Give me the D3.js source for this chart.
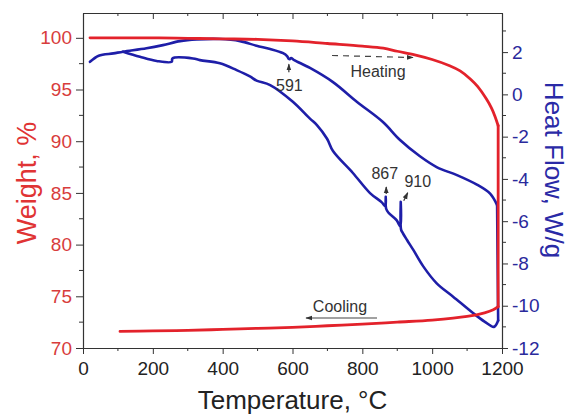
<!DOCTYPE html>
<html><head><meta charset="utf-8">
<script src="https://cdn.jsdelivr.net/npm/d3@7"></script>
<style>
body{margin:0;background:#fff}
text{font-family:"Liberation Sans",Arial,sans-serif}
</style>
</head><body>
<svg id="chart" width="570" height="415"></svg>
<script>
// Thermogravimetric (weight) data, heating run then cooling run
const wHeatT = [20,100,200,300,400,500,600,700,800,860,900,950,1000,1050,1080,1110,1130,1155,1170,1180,1189];
const wHeatV = [100.0,100.0,100.0,99.95,99.9,99.85,99.7,99.45,99.2,99.0,98.7,98.35,97.9,97.3,96.8,96.0,95.3,94.1,93.2,92.4,91.5];
const wCoolT = [1189,1175,1150,1100,1000,900,800,700,600,500,400,300,200,106];
const wCoolV = [74.0,73.7,73.4,73.05,72.7,72.5,72.3,72.15,72.0,71.9,71.8,71.7,71.65,71.6];

// DSC heat flow, heating run then cooling run
const hHeatT = [20,45,87,115,182,229,278,326,392,450,497,536,573,585,589,592,596,605,650,716,785,859,908,965,1014,1071,1128,1166,1186];
const hHeatV = [1.54,1.83,1.94,2.02,2.18,2.33,2.52,2.6,2.62,2.52,2.3,2.15,1.95,1.8,1.68,1.66,1.72,1.62,1.25,0.58,-0.36,-1.31,-2.16,-2.93,-3.45,-3.82,-4.27,-4.7,-5.24];
const hCoolT = [1189,1177,1150,1118,1060,1013,975,946,928,916,911,910,909,898,875,868,867,866,855,822,773,716,699,670,650,601,536,497,478,440,392,335,315,256,254,211,163,115];
const hCoolV = [-10.7,-11.0,-10.75,-10.36,-9.57,-8.94,-8.15,-7.36,-6.89,-6.56,-6.4,-5.08,-6.25,-5.95,-5.6,-5.4,-4.85,-5.3,-5.1,-4.67,-3.72,-2.68,-2.1,-1.45,-1.15,-0.35,0.44,0.65,0.85,1.15,1.47,1.62,1.70,1.70,1.54,1.58,1.78,2.02];

// Axis ticks
const tempTicks = [0,200,400,600,800,1000,1200];
const weightTicks = [70,75,80,85,90,95,100];
const flowTicks = [-12,-10,-8,-6,-4,-2,0,2];

// Annotated transition temperatures
const markTemps = [591, 867, 910];

const svg = d3.select("#chart");
const L = 83, R = 502, T = 13, B = 348;

const x = d3.scaleLinear().domain([0, 1200]).range([L, R]);
const yW = d3.scaleLinear().domain([70, 102.4]).range([B, T]);
const yH = d3.scaleLinear().domain([-12, 3.85]).range([B, T]);

const RED = "#e3222b", BLUE = "#1e1ea8";

// arrowhead marker
const defs = svg.append("defs");
defs.append("marker").attr("id","ah").attr("viewBox","0 0 10 10")
  .attr("refX",9).attr("refY",5).attr("markerWidth",7).attr("markerHeight",7)
  .attr("markerUnits","userSpaceOnUse").attr("orient","auto")
  .append("path").attr("d","M0,1.5L10,5L0,8.5Z").attr("fill","#333");

// minor ticks
function minor(g, vals, pos, len, horiz) {
  g.selectAll(null).data(vals).enter().append("line")
    .attr("stroke","#333").attr("stroke-width",1)
    .each(function(d){
      const s = d3.select(this);
      if (horiz) s.attr("x1",pos(d)).attr("x2",pos(d)).attr("y1",0).attr("y2",len);
      else s.attr("y1",pos(d)).attr("y2",pos(d)).attr("x1",0).attr("x2",len);
    });
}

// bottom axis
const gx = svg.append("g").attr("transform",`translate(0,${B})`)
  .call(d3.axisBottom(x).tickValues(tempTicks).tickSize(6).tickSizeOuter(0).tickPadding(8).tickFormat(d=>String(d)));
minor(gx, d3.range(100,1200,200), x, 3, true);
gx.selectAll("text").attr("font-size",19).attr("fill","#222");

// top frame with inward ticks
const gt = svg.append("g").attr("transform",`translate(0,${T})`)
  .call(d3.axisTop(x).tickValues(tempTicks).tickSize(-6).tickSizeOuter(0).tickFormat(""));
minor(gt, d3.range(100,1200,200), x, 3, true);

// left weight axis
const gl = svg.append("g").attr("transform",`translate(${L},0)`)
  .call(d3.axisLeft(yW).tickValues(weightTicks).tickSize(7).tickSizeOuter(0).tickPadding(4).tickFormat(d=>String(d)));
minor(gl, d3.range(72.5,102,5), yW, -4, false);
gl.selectAll("text").attr("font-size",19).attr("fill","#d83c3c");

// right heat-flow axis
const gr = svg.append("g").attr("transform",`translate(${R},0)`)
  .call(d3.axisRight(yH).tickValues(flowTicks).tickSize(6).tickSizeOuter(0).tickPadding(4).tickFormat(d=>String(d)));
minor(gr, d3.range(-11,4,2), yH, 4, false);
gr.selectAll("text").attr("font-size",19).attr("fill","#2a2a9c");

svg.selectAll(".domain").attr("stroke","#333").attr("stroke-width",1.2);
svg.selectAll(".tick line").attr("stroke","#333");

// curves: each run smoothed on its own, joined at the top temperature by a straight segment
const wHeat = wHeatT.map((t,i)=>[t,wHeatV[i]]);
const wCool = wCoolT.map((t,i)=>[t,wCoolV[i]]);
const hHeat = hHeatT.map((t,i)=>[t,hHeatV[i]]);
const hCool = hCoolT.map((t,i)=>[t,hCoolV[i]]);

const smooth = d3.curveCatmullRom.alpha(0.5);
function drawRun(heat, cool, yScale, color, width) {
  const sm = d3.line().x(d=>x(d[0])).y(d=>yScale(d[1])).curve(smooth);
  const st = d3.line().x(d=>x(d[0])).y(d=>yScale(d[1]));
  const g = svg.append("g").attr("fill","none").attr("stroke",color)
    .attr("stroke-width",width).attr("stroke-linejoin","round").attr("stroke-linecap","round");
  g.append("path").attr("d", sm(heat));
  g.append("path").attr("d", st([heat[heat.length-1], cool[0]]));
  g.append("path").attr("d", sm(cool));
}
drawRun(hHeat, hCool, yH, BLUE, 2.6);
drawRun(wHeat, wCool, yW, RED, 2.8);

// annotations
const ann = svg.append("g").attr("fill","#333").attr("font-size",16);
const hAt = (arr, t) => arr.find(d=>d[0]===t)[1];

// 591 on heating curve
const t591 = markTemps[0];
ann.append("line").attr("x1",x(t591)-0.5).attr("x2",x(t591)-0.5)
  .attr("y1",yH(1.62)+12).attr("y2",yH(1.62)+4)
  .attr("stroke","#333").attr("stroke-width",1.2).attr("marker-end","url(#ah)");
ann.append("text").attr("x",x(t591)).attr("y",yH(1.62)+31).attr("text-anchor","middle").text(String(t591));

// 867 and 910 on cooling curve
const t867 = markTemps[1], t910 = markTemps[2];
ann.append("line").attr("x1",x(t867)+0.5).attr("x2",x(t867)+0.5)
  .attr("y1",yH(hAt(hCool,t867))-3).attr("y2",yH(hAt(hCool,t867))-10)
  .attr("stroke","#333").attr("stroke-width",1.2).attr("marker-end","url(#ah)");
ann.append("text").attr("x",x(t867)-1).attr("y",yH(hAt(hCool,t867))-18).attr("text-anchor","middle").text(String(t867));
ann.append("line").attr("x1",x(t910)+3).attr("x2",x(t910)+7)
  .attr("y1",yH(hAt(hCool,t910))-1).attr("y2",yH(hAt(hCool,t910))-9)
  .attr("stroke","#333").attr("stroke-width",1.2).attr("marker-end","url(#ah)");
ann.append("text").attr("x",x(t910)+17).attr("y",yH(hAt(hCool,t910))-15).attr("text-anchor","middle").text(String(t910));

// heating / cooling direction arrows
ann.append("line").attr("x1",332).attr("y1",55.5).attr("x2",413).attr("y2",57.5)
  .attr("stroke","#444").attr("stroke-width",1.2).attr("stroke-dasharray","6,5").attr("marker-end","url(#ah)");
ann.append("text").attr("x",378).attr("y",77).attr("text-anchor","middle").text("Heating");
ann.append("line").attr("x1",377).attr("y1",318).attr("x2",306).attr("y2",318)
  .attr("stroke","#444").attr("stroke-width",1.2).attr("marker-end","url(#ah)");
ann.append("text").attr("x",340).attr("y",312).attr("text-anchor","middle").text("Cooling");

// axis titles
svg.append("text").attr("x",(L+R)/2).attr("y",409).attr("text-anchor","middle")
  .attr("font-size",26).attr("fill","#222").text("Temperature, °C");
svg.append("text").attr("transform","translate(36,183) rotate(-90)").attr("text-anchor","middle")
  .attr("font-size",27).attr("fill","#e03434").text("Weight, %");
svg.append("text").attr("transform","translate(545,170) rotate(90)").attr("text-anchor","middle")
  .attr("font-size",26).attr("fill","#2a2aa6").text("Heat Flow, W/g");
</script>
</body></html>
